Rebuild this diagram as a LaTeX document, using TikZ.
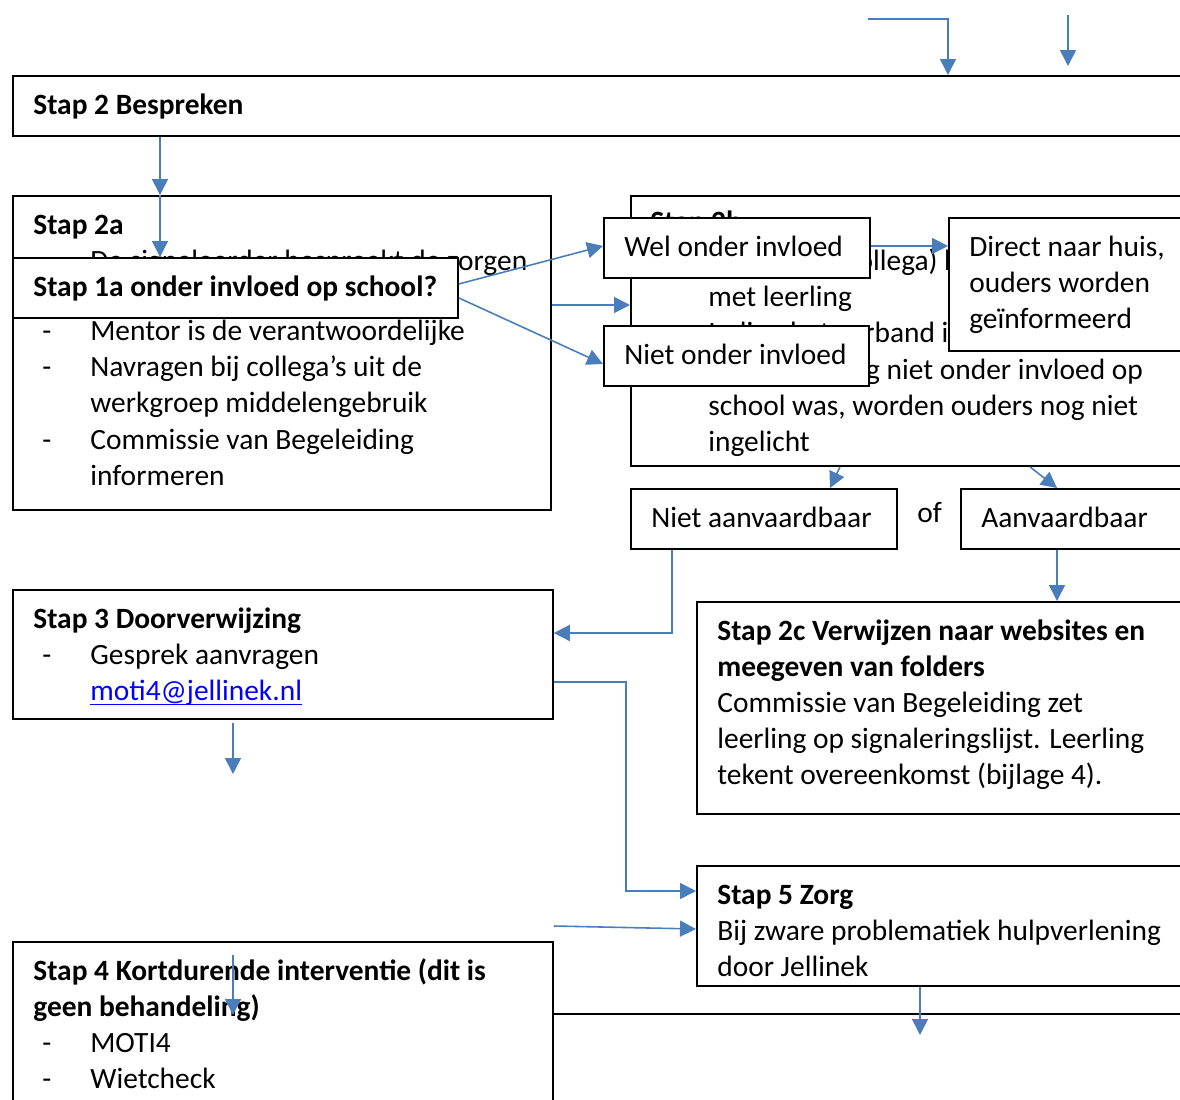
\documentclass[tikz,border=0pt]{standalone}
\usepackage{fontspec}
\setmainfont{Carlito}
\usetikzlibrary{arrows.meta}
\definecolor{lijnblauw}{RGB}{74,126,187}
\definecolor{linkblauw}{RGB}{0,0,255}
\newcommand{\bodyfont}{\fontsize{16.75}{20.6}\selectfont}
\newcommand{\itm}{\makebox[0.96cm][l]{-}}
\newcommand{\ind}{\hspace*{0.96cm}}
\newsavebox{\linkbox}
\newcommand{\onderlijn}[1]{\sbox{\linkbox}{#1}\rlap{\rule[-2.4pt]{\wd\linkbox}{0.8pt}}\usebox{\linkbox}}

\begin{document}
\begin{tikzpicture}[x=0.02cm, y=-0.02cm,
    box/.style={draw, fill=white, line width=1.1pt, anchor=north west, inner sep=0pt},
    txt/.style={anchor=north west, inner sep=0pt, align=left, font=\bodyfont, execute at begin node=\strut},
    txtb/.style={txt, font=\bodyfont\bfseries},
    arr/.style={draw=lijnblauw, line width=0.9pt, -{Triangle[width=0.32cm,length=0.32cm]}}]
  \useasboundingbox (0,0) rectangle (1180,1099);
  \clip (0,0) rectangle (1180,1099);

  % stap 2
  \node[box, minimum width=23.8cm, minimum height=1.2cm] (bespreken) at (12,75) {};
  \node[txtb] (tbespreken) at (33,88.8) {Stap 2 Bespreken};

  % stap 2a met stap 1a erover
  \node[box, minimum width=10.76cm, minimum height=6.28cm] (stap2a) at (12,195) {};
  \node[txtb] (t2a) at (33,208.8) {Stap 2a};
  \node[txt] (t2aregel) at (90,244.8) {De signaleerder bespreekt de zorgen};
  \node[txt] (t2alijst) at (42,314.8) {\strut\itm Mentor is de verantwoordelijke\\
    \itm Navragen bij collega’s uit de\\
    \ind werkgroep middelengebruik\\
    \itm Commissie van Begeleiding\\
    \ind informeren};
  \node[box, minimum width=8.9cm, minimum height=1.2cm] (stap1a) at (12,257) {};
  \node[txtb] (t1a) at (33,270.8) {Stap 1a onder invloed op school?};

  % stap 2b met de keuzes erover
  \node[box, minimum width=12cm, minimum height=5.4cm] (stap2b) at (630,195) {};
  \node[txtb] (t2b) at (650,205.8) {Stap 2b};
  \node[txt] (t2bregels) at (708,244.8) {\strut Mentor (of collega) bespreekt\\
    met leerling\\
    Indien het verband is\\
    dat de leerling niet onder invloed op\\
    school was, worden ouders nog niet\\
    ingelicht};
  \node[box, minimum width=5.32cm, minimum height=1.2cm] (wel) at (603,217) {};
  \node[txt] (twel) at (624,230.8) {Wel onder invloed};
  \node[box, minimum width=5.3cm, minimum height=1.2cm] (niet) at (603,325) {};
  \node[txt] (tniet) at (624,338.8) {Niet onder invloed};
  \node[box, minimum width=6cm, minimum height=2.66cm] (huis) at (948,217) {};
  \node[txt] (thuis) at (969,230.8) {\strut Direct naar huis,\\ ouders worden\\ geïnformeerd};

  % aanvaardbaar of niet
  \node[box, minimum width=5.32cm, minimum height=1.2cm] (nietaanv) at (630,488) {};
  \node[txt] (tnietaanv) at (651,501.8) {Niet aanvaardbaar};
  \node[txt] (of) at (917,496.8) {of};
  \node[box, minimum width=6cm, minimum height=1.2cm] (aanv) at (960,488) {};
  \node[txt] (taanv) at (981,501.8) {Aanvaardbaar};

  % stap 3
  \node[box, minimum width=10.8cm, minimum height=2.58cm] (stap3) at (12,589) {};
  \node[txtb] (t3) at (33,602.8) {Stap 3 Doorverwijzing};
  \node[txt] (t3lijst) at (42,638.8) {\strut\itm Gesprek aanvragen\\
    \ind\textcolor{linkblauw}{\onderlijn{moti4@jellinek.nl}}};

  % stap 2c
  \node[box, minimum width=12cm, minimum height=4.24cm] (stap2c) at (696,601) {};
  \node[txtb] (t2c) at (717,614.8) {\strut Stap 2c Verwijzen naar websites en\\ meegeven van folders};
  \node[txt] (t2cregels) at (717,686.8) {\strut Commissie van Begeleiding zet\\
    leerling op signaleringslijst. Leerling\\
    tekent overeenkomst (bijlage 4).};

  % stap 5
  \node[box, minimum width=12cm, minimum height=2.4cm] (stap5) at (696,865) {};
  \node[txtb] (t5) at (717,878.8) {Stap 5 Zorg};
  \node[txt] (t5regels) at (717,914.8) {\strut Bij zware problematiek hulpverlening\\ door Jellinek};

  % stap 4, onderste kader half erachter
  \node[box, minimum width=20cm, minimum height=3cm] (stap6) at (300,1013) {};
  \node[box, minimum width=10.8cm, minimum height=4cm] (stap4) at (12,941) {};
  \node[txtb] (t4) at (33,954.8) {\strut Stap 4 Kortdurende interventie (dit is\\ geen behandeling)};
  \node[txt] (t4lijst) at (42,1026.8) {\strut\itm MOTI4\\ \itm Wietcheck};

  % losse eindpunten
  \coordinate (boven1) at (868,19);
  \coordinate (boven2a) at (1068,15);
  \coordinate (boven2b) at (1068,66);
  \coordinate (onder3a) at (233,723);
  \coordinate (onder3b) at (233,774);
  \coordinate (in4a) at (233,955);
  \coordinate (in4b) at (233,1015);
  \coordinate (onder5) at (920,1035);

  % pijlen
  \draw[arr] (boven1) -| (948,0 |- bespreken.north);
  \draw[arr] (boven2a) -- (boven2b);
  \draw[arr] (160,0 |- bespreken.south) -- (160,0 |- stap2a.north);
  \draw[arr] (160,0 |- stap2a.north) -- (160,0 |- stap1a.north);
  \draw[arr] ([yshift=0.08cm]stap1a.east) -- ([yshift=0.04cm]wel.west);
  \draw[arr] ([yshift=-0.2cm]stap1a.east) -- ([yshift=-0.16cm]niet.west);
  \draw[arr] (stap2a.east |- 0,305) -- (stap2b.west |- 0,305);
  \draw[arr] ([yshift=0.04cm]wel.east) -- ([yshift=0.04cm]huis.west |- wel.east);
  \draw[arr] (840,0 |- stap2b.south) -- (830,0 |- nietaanv.north);
  \draw[arr] (1030,0 |- stap2b.south) -- (1057,0 |- aanv.north);
  \draw[arr] (672,0 |- nietaanv.south) |- (stap3.east |- 0,633);
  \draw[arr] (1057,0 |- aanv.south) -- (1057,0 |- stap2c.north);
  \draw[arr] (stap3.east |- 0,682) -| (626,891) -- (stap5.west |- 0,891);
  \draw[arr] (onder3a) -- (onder3b);
  \draw[arr] (stap4.east |- 0,926) -- (stap5.west |- 0,929);
  \draw[arr] (in4a) -- (in4b);
  \draw[arr] (920,0 |- stap5.south) -- (onder5);
\end{tikzpicture}
\end{document}
